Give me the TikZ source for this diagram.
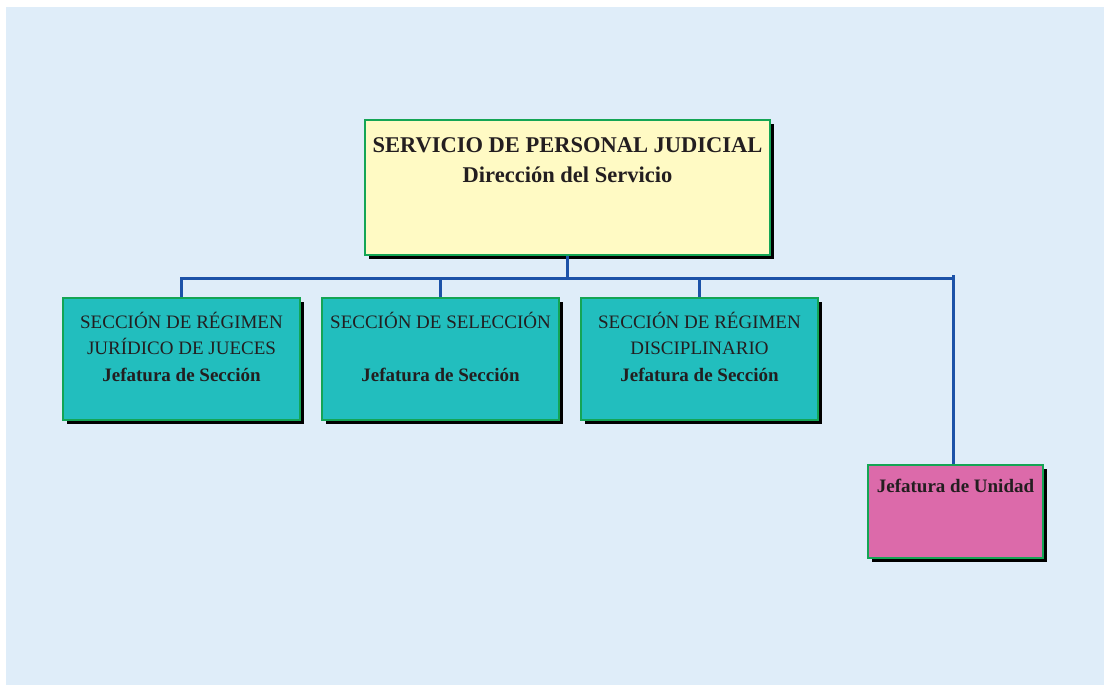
\documentclass[tikz,border=0pt]{standalone}
\usepackage{fontspec}
\setmainfont{Liberation Serif}
\usetikzlibrary{shadows}
\definecolor{bgblue}{RGB}{223,237,249}
\definecolor{boxgreen}{RGB}{20,165,85}
\definecolor{diryellow}{RGB}{255,250,196}
\definecolor{secteal}{RGB}{34,190,190}
\definecolor{unitpink}{RGB}{220,106,170}
\definecolor{linkblue}{RGB}{28,82,168}
\definecolor{inkdark}{RGB}{35,30,32}
\tikzstyle{box} = [
    draw=boxgreen,
    line width=1.6pt,
    inner sep=0pt,
    general shadow={fill=black, shadow xshift=3.5pt, shadow yshift=-3.5pt}
]
\tikzstyle{link} = [
    draw=linkblue,
    line width=3.2pt
]
\tikzstyle{txt} = [
    anchor=north,
    align=center,
    inner sep=0pt,
    text=inkdark
]
\begin{document}
\begin{tikzpicture}[x=1pt,y=-1pt]
\fill[bgblue] (6,7) rectangle (1104,685);
\useasboundingbox (0,0) rectangle (1104,685);
% boxes
\node[box, fill=diryellow, minimum width=405pt, minimum height=135pt] (dir) at (567.5,187.5) {};
\node[box, fill=secteal, minimum width=237pt, minimum height=122pt] (sec1) at (181.5,359) {};
\node[box, fill=secteal, minimum width=237pt, minimum height=122pt] (sec2) at (440.5,359) {};
\node[box, fill=secteal, minimum width=237pt, minimum height=122pt] (sec3) at (699.5,359) {};
\node[box, fill=unitpink, minimum width=175pt, minimum height=93pt] (unit) at (955.5,511.5) {};
% texts
\node[txt, font=\fontsize{22.5}{30}\selectfont\bfseries] (dirtxt) at (567.5,137) {SERVICIO DE PERSONAL JUDICIAL\\Dirección del Servicio};
\node[txt, font=\fontsize{19}{26.3}\selectfont] (sec1txt) at (181.5,312) {SECCIÓN DE RÉGIMEN\\JURÍDICO DE JUECES\\\textbf{Jefatura de Sección}};
\node[txt, font=\fontsize{19}{26.3}\selectfont] (sec2txt) at (440.5,312) {SECCIÓN DE SELECCIÓN\\\mbox{}\\\textbf{Jefatura de Sección}};
\node[txt, font=\fontsize{19}{26.3}\selectfont] (sec3txt) at (699.5,312) {SECCIÓN DE RÉGIMEN\\DISCIPLINARIO\\\textbf{Jefatura de Sección}};
\node[txt, font=\fontsize{19}{26}\selectfont\bfseries] (unittxt) at (955.5,479) {Jefatura de Unidad};
% connectors
\coordinate (bus) at (567.5,278.5);
\coordinate (bend) at (953.5,278.5);
\draw[link] (dir.south) -- (bus);
\draw[link] (sec1.north) |- (bus) -- (bend);
\draw[link] (sec2.north) -- (sec2.north |- bus);
\draw[link] (sec3.north) -- (sec3.north |- bus);
\draw[link] (unit.north -| bend) -- ([yshift=4pt]bend);
\end{tikzpicture}
\end{document}
